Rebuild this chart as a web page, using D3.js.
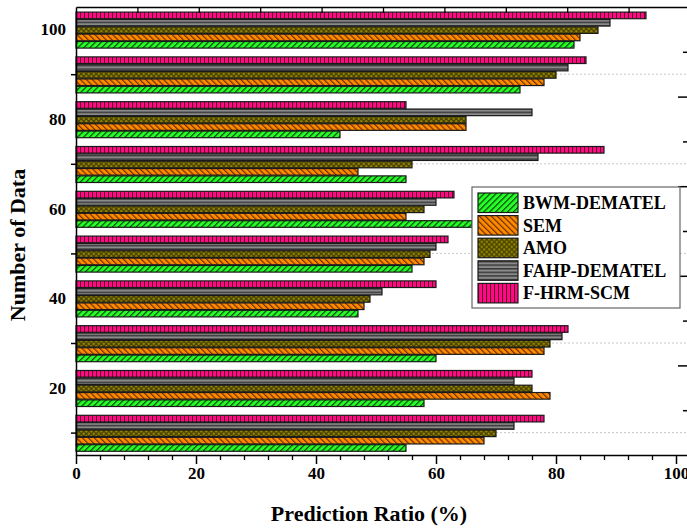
<!DOCTYPE html>
<html>
<head>
<meta charset="utf-8">
<script src="https://cdn.jsdelivr.net/npm/d3@7/dist/d3.min.js"></script>
<style>
  html, body { margin: 0; padding: 0; background: #fff; }
  svg { display: block; }
  text { font-family: "Liberation Serif", "Times New Roman", serif; font-weight: bold; fill: #000; }
</style>
</head>
<body>
<svg id="chart" width="687" height="528"></svg>
<script>
// ---- data ----
const categories = [10, 20, 30, 40, 50, 60, 70, 80, 90, 100];
const bwmDematel  = [55, 58, 60, 47, 56, 66, 55, 44, 74, 83];
const sem         = [68, 79, 78, 48, 58, 55, 47, 65, 78, 84];
const amo         = [70, 76, 79, 49, 59, 58, 56, 65, 80, 87];
const fahpDematel = [73, 73, 81, 51, 60, 60, 77, 76, 82, 89];
const fHrmScm     = [78, 76, 82, 60, 62, 63, 88, 55, 85, 95];
const seriesNames = ["BWM-DEMATEL", "SEM", "AMO", "FAHP-DEMATEL", "F-HRM-SCM"];
const xTickLabels = [0, 20, 40, 60, 80, 100];
const yTickLabels = [20, 40, 60, 80, 100];

const seriesValues = [bwmDematel, sem, amo, fahpDematel, fHrmScm];
const patternIds = ["pGreen", "pOrange", "pOlive", "pGray", "pPink"];

const svg = d3.select("#chart");

// ---- patterns ----
const defs = svg.append("defs");
function stripePattern(id, base, line, angle, w, sw) {
  const p = defs.append("pattern").attr("id", id)
    .attr("patternUnits", "userSpaceOnUse").attr("width", w).attr("height", w)
    .attr("patternTransform", `rotate(${angle})`);
  p.append("rect").attr("width", w).attr("height", w).attr("fill", base);
  p.append("line").attr("x1", 0.5).attr("y1", 0).attr("x2", 0.5).attr("y2", w)
    .attr("stroke", line).attr("stroke-width", sw);
}
stripePattern("pGreen", "#26ff26", "#0d420d", 45, 4.2, 1.4);
stripePattern("pOrange", "#ff8a00", "#6e3000", -45, 4.2, 1.4);
stripePattern("pPink", "#ff0a84", "#5a0028", 0, 4, 1.1);
(function () {
  const p = defs.append("pattern").attr("id", "pGray")
    .attr("patternUnits", "userSpaceOnUse").attr("width", 4).attr("height", 3.6);
  p.append("rect").attr("width", 4).attr("height", 3.6).attr("fill", "#8a8a8a");
  p.append("rect").attr("y", 0).attr("width", 4).attr("height", 1.5).attr("fill", "#383838");
})();
(function () {
  const p = defs.append("pattern").attr("id", "pOlive")
    .attr("patternUnits", "userSpaceOnUse").attr("width", 5).attr("height", 5);
  p.append("rect").attr("width", 5).attr("height", 5).attr("fill", "#4e4600");
  p.append("circle").attr("cx", 1.25).attr("cy", 1.25).attr("r", 1.2).attr("fill", "#8f8200");
  p.append("circle").attr("cx", 3.75).attr("cy", 3.75).attr("r", 1.2).attr("fill", "#8f8200");
})();

// ---- scales ----
const x = d3.scaleLinear().domain([0, 102]).range([76, 688]);
const xTop = d3.scaleLinear().domain([0, 100]).range([76, 690]);
const y = d3.scaleLinear().domain([5, 105]).range([455, 7]);
const drawOrder = ["F-HRM-SCM", "FAHP-DEMATEL", "AMO", "SEM", "BWM-DEMATEL"];
const sb = d3.scaleBand().domain(drawOrder).range([-17.3, 18.7]).paddingInner(0.1);

// ---- gridlines ----
svg.append("g").selectAll("line").data([10, 30, 50, 70, 90]).join("line")
  .attr("x1", x(0)).attr("x2", x(102)).attr("y1", d => y(d)).attr("y2", d => y(d))
  .attr("stroke", "#c8c8c8").attr("stroke-width", 1).attr("stroke-dasharray", "2,2");

// inner major ticks on left axis (under bars)
svg.append("g").attr("transform", `translate(${x(0)},0)`)
  .call(d3.axisRight(y).tickValues(yTickLabels).tickSize(7).tickFormat(""))
  .call(g => g.select(".domain").remove())
  .selectAll("line").attr("stroke", "#000");

// ---- bars ----
const barsG = svg.append("g");
seriesNames.forEach((name, si) => {
  const vals = seriesValues[si];
  barsG.append("g").selectAll("rect").data(categories.map((c, i) => ({ c, v: vals[i] })))
    .join("rect")
    .attr("x", x(0))
    .attr("y", d => y(d.c) + sb(name))
    .attr("width", d => x(d.v) - x(0))
    .attr("height", sb.bandwidth())
    .attr("fill", `url(#${patternIds[si]})`)
    .attr("stroke", "#1a1a1a").attr("stroke-width", 1.2);
});

// ---- axes ----
// left
svg.append("g").attr("transform", `translate(${x(0)},0)`)
  .call(d3.axisLeft(y).tickValues(yTickLabels).tickSize(0).tickPadding(10).tickSizeOuter(0))
  .call(g => g.select(".domain").attr("stroke", "#000").attr("stroke-width", 1.5))
  .selectAll("text").style("font-size", "17px");
svg.append("g").attr("transform", `translate(${x(0)},0)`)
  .call(d3.axisLeft(y).tickValues([10, 30, 50, 70, 90]).tickSize(5).tickFormat(""))
  .call(g => g.select(".domain").remove())
  .selectAll("line").attr("stroke", "#000").attr("stroke-width", 1.5);

// bottom
svg.append("g").attr("transform", `translate(0,${y(5)})`)
  .call(d3.axisBottom(x).tickValues(xTickLabels).tickSize(9).tickPadding(3).tickSizeOuter(0))
  .call(g => g.select(".domain").attr("stroke", "#000").attr("stroke-width", 1.5))
  .call(g => g.selectAll("line").attr("stroke-width", 1.5))
  .selectAll("text").style("font-size", "17px");
svg.append("g").attr("transform", `translate(0,${y(5)})`)
  .call(d3.axisBottom(x).tickValues(d3.range(4, 102, 4).filter(v => v % 20 !== 0)).tickSize(5).tickFormat(""))
  .call(g => g.select(".domain").remove())
  .selectAll("line").attr("stroke-width", 1.3);

// top
svg.append("g").attr("transform", `translate(0,${y(105)})`)
  .call(d3.axisTop(xTop).tickValues(d3.range(10, 100, 10)).tickSize(-6).tickFormat("").tickSizeOuter(0))
  .call(g => g.select(".domain").attr("stroke-width", 1.5))
  .selectAll("line").attr("stroke-width", 1.3);

// right
svg.append("g").attr("transform", `translate(${x(102)},0)`)
  .call(d3.axisRight(y).tickValues([25, 45, 65, 85]).tickSize(-10).tickFormat("").tickSizeOuter(0))
  .call(g => g.select(".domain").attr("stroke-width", 1.5))
  .selectAll("line").attr("stroke-width", 1.5);
svg.append("g").attr("transform", `translate(${x(102)},0)`)
  .call(d3.axisRight(y).tickValues([15, 35, 55, 75, 95]).tickSize(-5).tickFormat(""))
  .call(g => g.select(".domain").remove())
  .selectAll("line").attr("stroke-width", 1.5);

// ---- axis titles ----
svg.append("text").attr("x", 369).attr("y", 521).attr("text-anchor", "middle")
  .style("font-size", "22px").text("Prediction Ratio (%)");
svg.append("text").attr("transform", "translate(25,245) rotate(-90)").attr("text-anchor", "middle")
  .style("font-size", "22px").text("Number of Data");

// ---- legend ----
const lg = svg.append("g").attr("transform", "translate(472,187)");
lg.append("rect").attr("width", 208).attr("height", 121)
  .attr("fill", "#fff").attr("stroke", "#666").attr("stroke-width", 1.2);
seriesNames.forEach((name, i) => {
  const row = lg.append("g").attr("transform", `translate(6,${6 + i * 22.6})`);
  row.append("rect").attr("width", 40).attr("height", 19.5)
    .attr("fill", `url(#${patternIds[i]})`).attr("stroke", "#1a1a1a").attr("stroke-width", 1.2);
  row.append("text").attr("x", 45).attr("y", 16).style("font-size", "18px").text(name);
});
</script>
</body>
</html>
